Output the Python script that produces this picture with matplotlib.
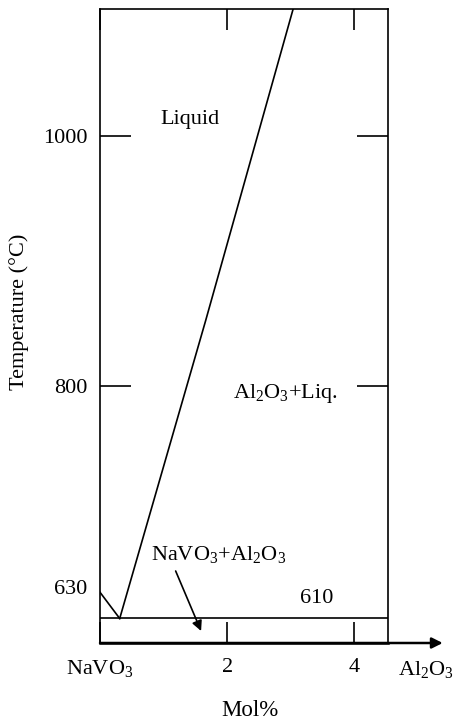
import matplotlib
matplotlib.use("Agg")
import matplotlib.pyplot as plt
from matplotlib import transforms

plt.rcParams['font.family'] = ['Liberation Serif', 'DejaVu Serif']
plt.rcParams['mathtext.fontset'] = 'custom'
plt.rcParams['mathtext.rm'] = 'Liberation Serif'
plt.rcParams['mathtext.it'] = 'Liberation Serif:italic'
plt.rcParams['mathtext.bf'] = 'Liberation Serif:bold'

# phase diagram NaVO3 - Al2O3 (NaVO3 rich end)
melt_x = [0.0, 0.31]          # NaVO3 melting -> eutectic
melt_T = [635, 614]
liquidus_x = [0.31, 1.66, 3.04]
liquidus_T = [614, 852, 1102]
eutectic_T = 614
x_ticks = [0, 2, 4]
x_ticklabels = ['NaVO$_3$', '2', '4']
y_ticks = [800, 1000]

FS = 16

fig = plt.figure(figsize=(4.54, 7.24), dpi=100)
ax = fig.add_axes([100/454, 81/724, 288/454, 634/724])
ax.set_xlim(0, 4.53)
ax.set_ylim(594.4, 1101.6)

lw = 1.2
ax.plot(melt_x, melt_T, color='black', lw=lw)
ax.plot(liquidus_x, liquidus_T, color='black', lw=lw)
ax.axhline(eutectic_T, color='black', lw=lw)

for s in ['left', 'right', 'top']:
    ax.spines[s].set_linewidth(lw)
ax.spines['bottom'].set_linewidth(1.8)

ax.set_xticks(x_ticks)
ax.set_xticklabels(x_ticklabels, fontsize=FS)
ax.set_yticks(y_ticks)
ax.set_yticklabels([str(t) for t in y_ticks], fontsize=FS)
ax.tick_params(axis='x', direction='in', length=15, width=lw, pad=11,
               top=True, bottom=True)
ax.tick_params(axis='y', direction='in', length=22, width=lw, pad=9,
               left=True, right=True)

# x-axis arrow
ax.annotate('', xy=(1.19, 0), xytext=(0, 0), xycoords='axes fraction',
            textcoords='axes fraction', annotation_clip=False,
            arrowprops=dict(arrowstyle='-|>', color='black', lw=1.8,
                            mutation_scale=16, shrinkA=0, shrinkB=0))

trans = transforms.blended_transform_factory(ax.transData, ax.transAxes)
ax.text(5.13, -0.0245, 'Al$_2$O$_3$', transform=trans, ha='center', va='top',
        fontsize=FS)

ax.annotate('630', xy=(0, 637), xytext=(-9, 0), textcoords='offset points',
            ha='right', va='center', fontsize=FS, annotation_clip=False)

ax.text(1.42, 1013, 'Liquid', ha='center', va='center', fontsize=FS)
ax.text(2.92, 794, 'Al$_2$O$_3$+Liq.', ha='center', va='center', fontsize=FS)
ax.text(3.41, 630, '610', ha='center', va='center', fontsize=FS)
ax.text(1.86, 665, 'NaVO$_3$+Al$_2$O$_3$', ha='center', va='center', fontsize=FS)
ax.annotate('', xy=(1.59, 604), xytext=(1.19, 652),
            arrowprops=dict(arrowstyle='-|>', color='black', lw=lw,
                            mutation_scale=15, shrinkA=0, shrinkB=0))

fig.text(19.5/454, 1 - 312/724, 'Temperature (°C)', rotation=90,
         ha='center', va='center', fontsize=FS)
fig.text(250/454, 1 - 710/724, 'Mol%', ha='center', va='center', fontsize=16.5)

fig.savefig('out.png', dpi=100)
